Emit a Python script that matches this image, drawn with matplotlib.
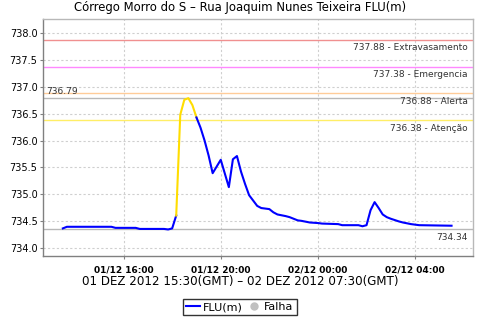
import matplotlib
matplotlib.use("Agg")
import matplotlib.pyplot as plt
import matplotlib.dates as mdates
from matplotlib.lines import Line2D
import numpy as np
from datetime import datetime, timedelta

plt.rcParams['font.family'] = ['DejaVu Sans']

# ---- data ----
times = ["01 13:30", "01 13:40", "01 15:30", "01 15:40", "01 16:30", "01 16:40",
         "01 17:40", "01 17:50", "01 18:00", "01 18:10", "01 18:20", "01 18:30",
         "01 18:40", "01 18:50", "01 19:00", "01 19:10", "01 19:20", "01 19:30",
         "01 19:40", "01 20:00", "01 20:20", "01 20:30", "01 20:40", "01 20:50",
         "01 21:00", "01 21:10", "01 21:20", "01 21:30", "01 21:40", "01 22:00",
         "01 22:10", "01 22:20", "01 22:40", "01 22:50", "01 23:00", "01 23:10",
         "01 23:20", "01 23:40", "02 00:00", "02 00:10", "02 00:50", "02 01:00",
         "02 01:40", "02 01:50", "02 02:00", "02 02:10", "02 02:20", "02 02:30",
         "02 02:40", "02 02:50", "02 03:00", "02 03:20", "02 03:30", "02 03:50",
         "02 04:10", "02 05:30"]
values = [734.36, 734.39, 734.39, 734.37, 734.37, 734.35,
          734.35, 734.34, 734.36, 734.60, 736.48, 736.76,
          736.79, 736.66, 736.43, 736.24, 736.00, 735.72,
          735.39, 735.64, 735.13, 735.65, 735.71, 735.42,
          735.19, 734.98, 734.88, 734.78, 734.74, 734.72,
          734.66, 734.62, 734.59, 734.57, 734.54, 734.51,
          734.50, 734.47, 734.46, 734.45, 734.44, 734.42,
          734.42, 734.40, 734.42, 734.70, 734.85, 734.74,
          734.62, 734.57, 734.54, 734.49, 734.47, 734.44,
          734.42, 734.41]

thr_values = [737.88, 737.38, 736.88, 736.38]
thr_names = ["Extravasamento", "Emergencia", "Alerta", "Atenção"]
thr_colors = ["#f09090", "#ff88ff", "#ffcc99", "#ffee66"]

yticks = [734.0, 734.5, 735.0, 735.5, 736.0, 736.5, 737.0, 737.5, 738.0]
xtick_times = ["01 16:00", "01 20:00", "02 00:00", "02 04:00"]

title = "Córrego Morro do S – Rua Joaquim Nunes Teixeira FLU(m)"
xlabel = "01 DEZ 2012 15:30(GMT) – 02 DEZ 2012 07:30(GMT)"


def parse(s):
    d, hm = s.split()
    return datetime(2012, 12, int(d), int(hm[:2]), int(hm[3:]))


t = [parse(s) for s in times]
v = np.array(values)
attn = thr_values[-1]

fig = plt.figure(figsize=(4.8, 3.2), dpi=100)
ax = fig.add_axes([43 / 480, 1 - 256 / 320, 430 / 480, 237 / 320])

# grid
ax.grid(True, color="#cfcfcf", linestyle=(0, (2, 2)), linewidth=0.8)
ax.set_axisbelow(True)

ytr = ax.get_yaxis_transform()

# thresholds
for val, name, col in zip(thr_values, thr_names, thr_colors):
    ax.axhline(val, color=col, linewidth=1.0, zorder=2)
    ax.text(0.988, val - 0.07, f"{val:.2f} - {name}", transform=ytr,
            ha="right", va="top", fontsize=6.5, color="#333333")

vmax, vmin = v.max(), v.min()
ax.axhline(vmax, color="#b8b8b8", linewidth=1.0, zorder=2)
ax.axhline(vmin, color="#b8b8b8", linewidth=1.0, zorder=2)
ax.text(0.008, vmax + 0.04, f"{vmax:.2f}", transform=ytr,
        ha="left", va="bottom", fontsize=6.5, color="#333333")
ax.text(0.988, vmin - 0.07, f"{vmin:.2f}", transform=ytr,
        ha="right", va="top", fontsize=6.5, color="#333333")

# data line, segment color by end value
seg_col = ["#ffdd00" if v[i + 1] >= attn else "#0000ff" for i in range(len(v) - 1)]
start = 0
for i in range(1, len(seg_col) + 1):
    if i == len(seg_col) or seg_col[i] != seg_col[start]:
        ax.plot(t[start:i + 1], v[start:i + 1], color=seg_col[start],
                linewidth=1.5, zorder=3, solid_joinstyle="round")
        start = i

ax.set_xlim(datetime(2012, 12, 1, 12, 41), datetime(2012, 12, 2, 6, 23))
ax.set_ylim(733.845, 738.267)
ax.set_yticks(yticks)
ax.set_yticklabels([f"{y:.1f}" for y in yticks], fontsize=7)
ax.set_xticks([parse(s) for s in xtick_times])
ax.xaxis.set_major_formatter(mdates.DateFormatter("%d/%m %H:%M"))
for lab in ax.get_xticklabels():
    lab.set_fontsize(6.5)
    lab.set_fontweight("bold")
ax.tick_params(length=2, width=0.8, color="#808080", pad=2)
ax.tick_params(axis="x", pad=5)
for name, sp in ax.spines.items():
    sp.set_color("#808080" if name in ("left", "bottom") else "#b8b8b8")
    sp.set_linewidth(1.0)

fig.text(0.5, 1 - 8 / 320, title, ha="center", va="center", fontsize=8.4)
fig.text(0.5, 1 - 282 / 320, xlabel, ha="center", va="center", fontsize=8.6)

handles = [Line2D([], [], color="#0000ff", linewidth=1.5),
           Line2D([], [], color="#c0c0c0", marker="o", linestyle="none", markersize=5)]
leg = fig.legend(handles, ["FLU(m)", "Falha"], loc="center", bbox_to_anchor=(0.5, 1 - 307 / 320),
                 ncol=2, fontsize=8, frameon=True, fancybox=False, handlelength=1.2,
                 handletextpad=0.3, columnspacing=0.4, borderpad=0.3, borderaxespad=0)
leg.get_frame().set_edgecolor("black")
leg.get_frame().set_linewidth(1.0)

fig.savefig("out.png", dpi=100, facecolor="white")
